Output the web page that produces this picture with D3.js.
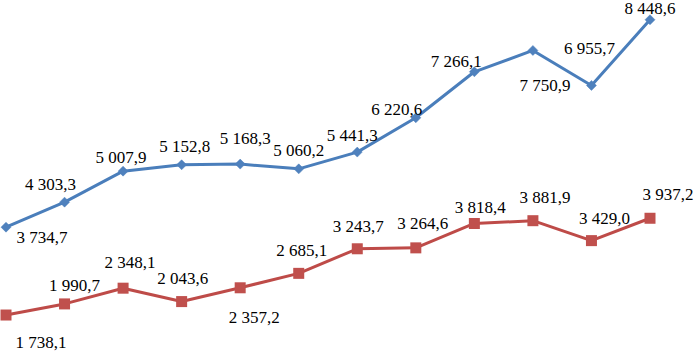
<!DOCTYPE html>
<html><head><meta charset="utf-8">
<script src="https://cdn.jsdelivr.net/npm/d3@7"></script>
<style>html,body{margin:0;padding:0;background:#fff;}svg{display:block;}</style>
</head><body>
<svg id="chart" width="694" height="351"></svg>
<script>
const categories = [1,2,3,4,5,6,7,8,9,10,11,12];
const seriesBlue = [3734.7, 4303.3, 5007.9, 5152.8, 5168.3, 5060.2, 5441.3, 6220.6, 7266.1, 7750.9, 6955.7, 8448.6];
const seriesRed  = [1738.1, 1990.7, 2348.1, 2043.6, 2357.2, 2685.1, 3243.7, 3264.6, 3818.4, 3881.9, 3429.0, 3937.2];

// label placement offsets (layout only)
const blueLabelOffsets = [[36,16],[-14,-12],[-2,-8],[3,-13],[5,-20],[0,-13],[-5,-11],[-19,-3],[-18,-5],[12,41],[-2,-31],[0,-5.5]];
const redLabelOffsets  = [[35,33],[10,-13],[7,-20],[1,-18],[14,35],[3,-17],[1,-17],[7,-19],[6,-10],[12,-18],[13,-17],[18,-18]];

const svg = d3.select("#chart");
const x = d3.scalePoint().domain(categories).range([6, 650]);
const y = d3.scaleLinear().domain([0, 9000]).range([391.5, -4.5]);

const fmt = d3.formatLocale({decimal: ",", thousands: " ", grouping: [3], currency: ["", ""]}).format(",.1f");

const line = d3.line().x((d, i) => x(categories[i])).y(d => y(d));

function drawSeries(values, lineColor, markerColor, marker, offsets) {
  svg.append("path").datum(values).attr("d", line)
    .attr("fill", "none").attr("stroke", lineColor).attr("stroke-width", 3).attr("stroke-linejoin", "round");
  const g = svg.append("g");
  values.forEach((v, i) => {
    const cx = x(categories[i]), cy = y(v);
    if (marker === "diamond") {
      g.append("path").attr("d", `M${cx},${cy-5}L${cx+5},${cy}L${cx},${cy+5}L${cx-5},${cy}Z`)
        .attr("fill", markerColor).attr("stroke", markerColor).attr("stroke-width", 0.5);
    } else {
      g.append("rect").attr("x", cx - 5.5).attr("y", cy - 5.5).attr("width", 11).attr("height", 11)
        .attr("fill", markerColor);
    }
  });
  const lg = svg.append("g");
  values.forEach((v, i) => {
    lg.append("text")
      .attr("x", x(categories[i]) + offsets[i][0]).attr("y", y(v) + offsets[i][1])
      .attr("text-anchor", "middle")
      .style("font-family", '"Liberation Serif"')
      .style("font-size", "17px")
      .style("fill", "#000")
      .text(fmt(v));
  });
}

drawSeries(seriesBlue, "#4A7EBB", "#4F81BD", "diamond", blueLabelOffsets);
drawSeries(seriesRed, "#BE4B48", "#C0504D", "square", redLabelOffsets);
</script>
</body></html>
